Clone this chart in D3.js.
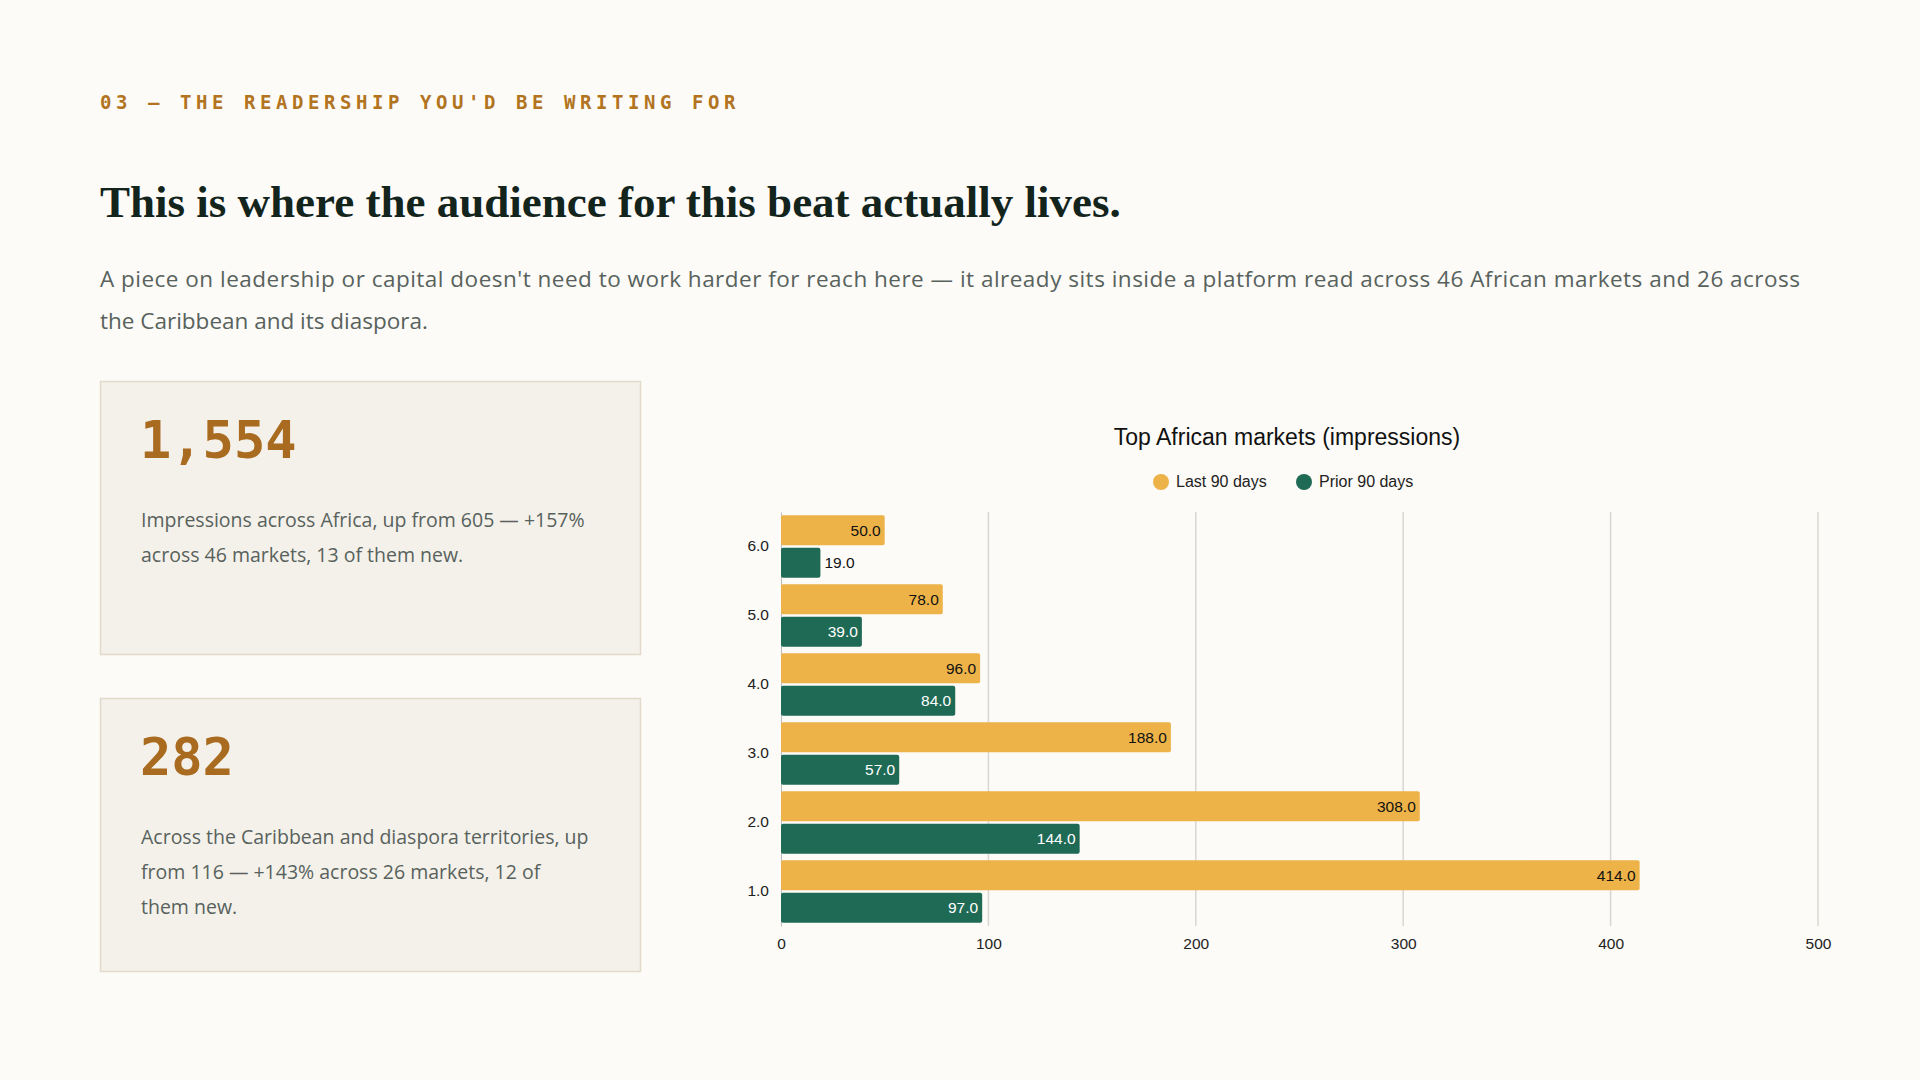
<!DOCTYPE html>
<html>
<head>
<meta charset="utf-8">
<script src="https://cdn.jsdelivr.net/npm/d3@7"></script>
<style>
  body { margin: 0; background: #fcfbf7; }
  svg { display: block; }
</style>
</head>
<body>
<svg id="page" width="1920" height="1080"></svg>
<script>
// Data
const categories = ['6.0', '5.0', '4.0', '3.0', '2.0', '1.0'];
const lastValues = [50, 78, 96, 188, 308, 414];
const priorValues = [19, 39, 84, 57, 144, 97];
const seriesNames = ['Last 90 days', 'Prior 90 days'];
const xTicks = [0, 100, 200, 300, 400, 500];

const cards = [
  { big: '1,554', lines: ['Impressions across Africa, up from 605 — +157%', 'across 46 markets, 13 of them new.'] },
  { big: '282', lines: ['Across the Caribbean and diaspora territories, up', 'from 116 — +143% across 26 markets, 12 of', 'them new.'] }
];

const gold = '#edb349';
const green = '#1f6a55';
const svg = d3.select('#page');

// Header
svg.append('text').attr('x', 100).attr('y', 109)
  .attr('font-family', 'DejaVu Sans Mono').attr('font-weight', 'bold')
  .attr('font-size', 19).attr('letter-spacing', '0.24em').attr('fill', '#b27420')
  .text("03 — THE READERSHIP YOU'D BE WRITING FOR");

svg.append('text').attr('x', 100).attr('y', 217)
  .attr('font-family', 'Liberation Serif').attr('font-weight', 'bold')
  .attr('font-size', 45).attr('fill', '#13241d')
  .text('This is where the audience for this beat actually lives.');

const para = ["A piece on leadership or capital doesn't need to work harder for reach here — it already sits inside a platform read across 46 African markets and 26 across",
  'the Caribbean and its diaspora.'];
para.forEach((t, i) => {
  svg.append('text').attr('x', 100).attr('y', 287 + i * 42)
    .attr('font-family', 'Open Sans').attr('font-size', 22.5).attr('fill', '#58625d')
    .attr('textLength', i === 0 ? 1700 : null)
    .text(t);
});

// Stat cards
cards.forEach((c, i) => {
  const y0 = 381 + i * 317;
  svg.append('rect').attr('x', 100.5).attr('y', y0 + 0.5).attr('width', 540).attr('height', 273)
    .attr('fill', '#f4f1ea').attr('stroke', '#e2dacb').attr('stroke-width', 1.5);
  svg.append('text').attr('x', 140).attr('y', y0 + 77)
    .attr('font-family', 'DejaVu Sans Mono').attr('font-weight', 'bold')
    .attr('font-size', 52).attr('fill', '#a96b1f').text(c.big);
  c.lines.forEach((t, j) => {
    svg.append('text').attr('x', 141).attr('y', y0 + 146 + j * 35)
      .attr('font-family', 'Open Sans').attr('font-size', 19.5).attr('fill', '#58625d').text(t);
  });
});

// Chart
const margin = { left: 781, right: 1818, top: 512, bottom: 926 };
const x = d3.scaleLinear().domain([0, 500]).range([margin.left, margin.right]);
const y = d3.scaleBand().domain(categories).range([margin.top, margin.bottom]).paddingInner(0.0).paddingOuter(0.0);
const sub = d3.scaleBand().domain([0, 1]).range([0, y.bandwidth()]).paddingInner(0.07).paddingOuter(0.1);

svg.append('text').attr('x', 1287).attr('y', 445).attr('text-anchor', 'middle')
  .attr('font-family', 'Liberation Sans').attr('font-size', 23).attr('fill', '#111')
  .text('Top African markets (impressions)');

const legendX = [1161, 1304];
seriesNames.forEach((n, i) => {
  svg.append('circle').attr('cx', legendX[i]).attr('cy', 482).attr('r', 8).attr('fill', i ? green : gold);
  svg.append('text').attr('x', legendX[i] + 15).attr('y', 487)
    .attr('font-family', 'Liberation Sans').attr('font-size', 16).attr('fill', '#222').text(n);
});

// gridlines
svg.append('g').selectAll('line').data(xTicks.slice(1)).join('line')
  .attr('x1', d => x(d)).attr('x2', d => x(d))
  .attr('y1', margin.top).attr('y2', margin.bottom)
  .attr('stroke', '#d9d7d2').attr('stroke-width', 1.5);

const xAxis = svg.append('g').attr('transform', `translate(0,${margin.bottom})`)
  .call(d3.axisBottom(x).tickValues(xTicks).tickSize(0).tickPadding(12));
xAxis.select('.domain').remove();
xAxis.selectAll('text').attr('font-family', 'Liberation Sans').attr('font-size', 15.5).attr('fill', '#222');

const yAxis = svg.append('g').attr('transform', `translate(${margin.left},0)`)
  .call(d3.axisLeft(y).tickSize(0).tickPadding(12));
yAxis.select('.domain').attr('stroke', '#bbb');
yAxis.selectAll('text').attr('font-family', 'Liberation Sans').attr('font-size', 15.5).attr('fill', '#222');

const rows = categories.map((c, i) => ({ c, vals: [lastValues[i], priorValues[i]] }));
const g = svg.append('g');
rows.forEach(r => {
  r.vals.forEach((v, k) => {
    const by = y(r.c) + sub(k);
    g.append('rect').attr('x', x(0)).attr('y', by).attr('width', x(v) - x(0))
      .attr('height', sub.bandwidth()).attr('rx', 2).attr('fill', k ? green : gold);
    const inside = x(v) - x(0) > 50;
    g.append('text')
      .attr('x', inside ? x(v) - 4 : x(v) + 4)
      .attr('y', by + sub.bandwidth() / 2 + 5.5)
      .attr('text-anchor', inside ? 'end' : 'start')
      .attr('font-family', 'Liberation Sans').attr('font-size', 15.5)
      .attr('fill', inside && k ? '#fff' : '#111')
      .text(v.toFixed(1));
  });
});
</script>
</body>
</html>
